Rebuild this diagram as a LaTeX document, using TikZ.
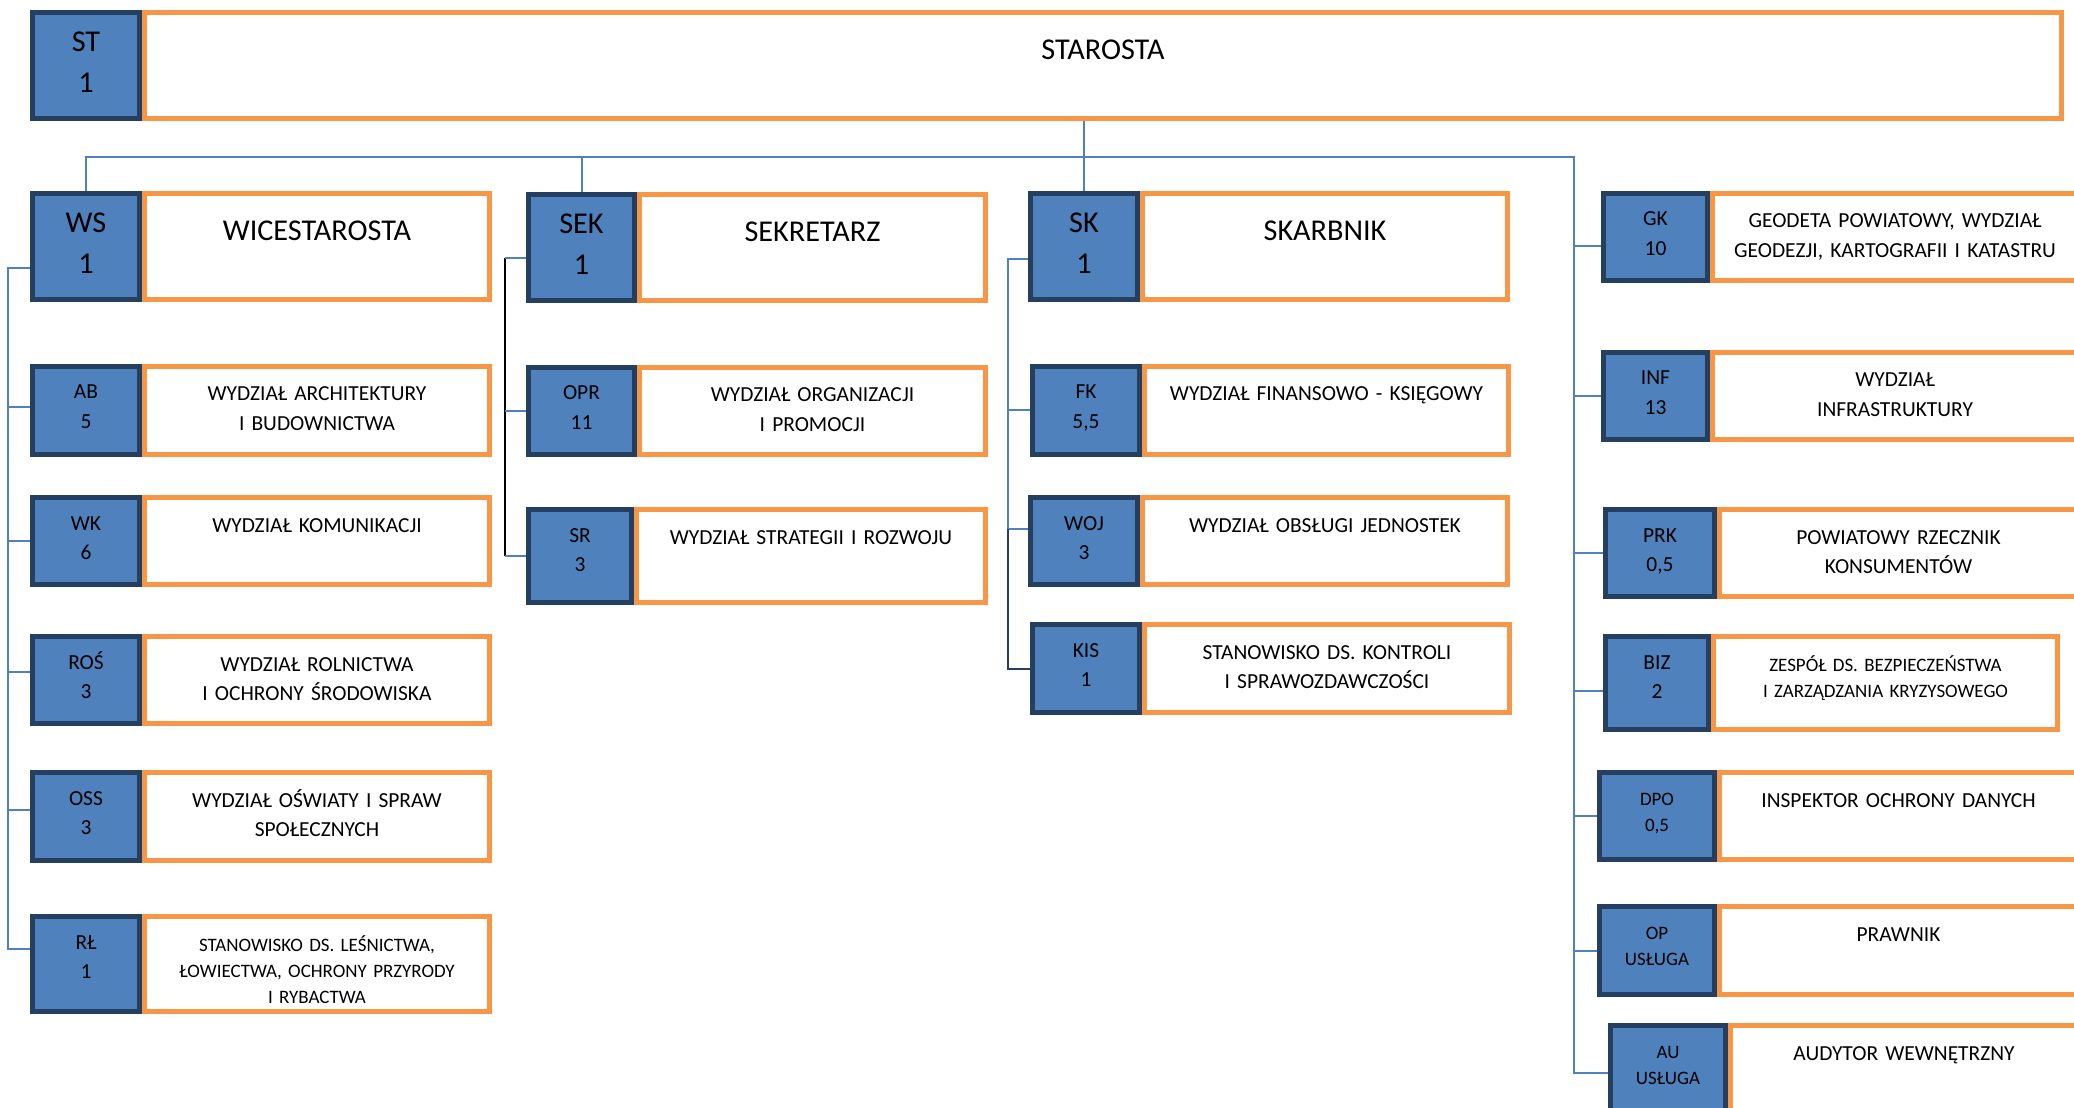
\documentclass[tikz,border=0pt]{standalone}
\usepackage{fontspec}
\setmainfont{Carlito}
\usepackage{tikz}
\definecolor{office}{RGB}{79, 129, 189}
\definecolor{navy}{RGB}{36, 63, 96}
\definecolor{orng}{RGB}{247, 150, 70}
\newcommand{\fbig}{\fontsize{8.6pt}{11.4pt}\selectfont}
\newcommand{\fmid}{\fontsize{6.1pt}{8.5pt}\selectfont}
\newcommand{\fsmall}{\fontsize{5.4pt}{7.4pt}\selectfont}
\tikzset{
  codebox/.style={draw=navy, fill=office, line width=0.5mm, inner sep=0, anchor=north west, align=center},
  namebox/.style={draw=orng, fill=white, line width=0.5mm, inner sep=0, anchor=north west, align=center},
  bigtxt/.style={font=\fbig}, midtxt/.style={font=\fmid}, smalltxt/.style={font=\fsmall},
  link/.style={draw=office, line width=0.2mm},
  spine/.style={draw=black, line width=0.2mm}
}

\begin{document}
\begin{tikzpicture}[x=0.1mm, y=-0.1mm]
  \useasboundingbox (0,0) rectangle (2074,1108);
  \clip (0,0) rectangle (2074,1108);

  \foreach \n/\x/\y/\bw/\rx/\code/\desc in {st/30/10/112/2064/{ST\\1}/{STAROSTA}, ws/30/191/112/492/{WS\\1}/{WICESTAROSTA}, sek/526/192/111/988/{SEK\\1}/{SEKRETARZ}, sk/1028/191/112/1510/{SK\\1}/{SKARBNIK}} {
    \pgfmathsetmacro\wcode{(\bw-5)/10}
    \pgfmathsetmacro\wname{(\rx-\x-\bw-5)/10}
    \node[codebox, bigtxt, text width=\wcode mm, text height=3.95mm, text depth=6.65mm] (\n) at (\x,\y) {\code};
    \node[namebox, bigtxt, text width=\wname mm, text height=4.75mm, text depth=5.85mm] (\n-d) at (\x+\bw,\y) {\desc};
  }

  \foreach \n/\x/\y/\hh/\bw/\rx/\cf/\df/\code/\desc in {
    ab/30/364/93/112/492/midtxt/midtxt/{AB\\5}/{WYDZIAŁ ARCHITEKTURY\\I BUDOWNICTWA},
    wk/30/495/92/112/492/midtxt/midtxt/{WK\\6}/{WYDZIAŁ KOMUNIKACJI},
    ros/30/634/92/112/492/midtxt/midtxt/{ROŚ\\3}/{WYDZIAŁ ROLNICTWA\\I OCHRONY ŚRODOWISKA},
    oss/30/770/93/112/492/midtxt/midtxt/{OSS\\3}/{WYDZIAŁ OŚWIATY I SPRAW\\SPOŁECZNYCH},
    rl/30/914/100/112/492/midtxt/smalltxt/{RŁ\\1}/{STANOWISKO DS. LEŚNICTWA,\\ŁOWIECTWA, OCHRONY PRZYRODY\\I RYBACTWA},
    opr/526/365/92/111/988/midtxt/midtxt/{OPR\\11}/{WYDZIAŁ ORGANIZACJI\\I PROMOCJI},
    sr/526/507/98/108/988/midtxt/midtxt/{SR\\3}/{WYDZIAŁ STRATEGII I ROZWOJU},
    fk/1030/364/93/112/1511/midtxt/midtxt/{FK\\5,5}/{WYDZIAŁ FINANSOWO - KSIĘGOWY},
    woj/1028/495/92/112/1510/midtxt/midtxt/{WOJ\\3}/{WYDZIAŁ OBSŁUGI JEDNOSTEK},
    kis/1030/622/93/112/1512/midtxt/midtxt/{KIS\\1}/{STANOWISKO DS. KONTROLI\\I SPRAWOZDAWCZOŚCI},
    gk/1601/191/92/109/2080/midtxt/midtxt/{GK\\10}/{GEODETA POWIATOWY, WYDZIAŁ\\GEODEZJI, KARTOGRAFII I KATASTRU},
    inf/1601/350/92/109/2080/midtxt/midtxt/{INF\\13}/{WYDZIAŁ\\INFRASTRUKTURY},
    prk/1603/507/92/114/2080/midtxt/midtxt/{PRK\\0,5}/{POWIATOWY RZECZNIK\\KONSUMENTÓW},
    biz/1603/634/98/108/2060/midtxt/smalltxt/{BIZ\\2}/{ZESPÓŁ DS. BEZPIECZEŃSTWA\\I ZARZĄDZANIA KRYZYSOWEGO},
    dpo/1597/770/92/120/2080/smalltxt/midtxt/{DPO\\0,5}/{INSPEKTOR OCHRONY DANYCH},
    op/1597/904/93/120/2080/smalltxt/midtxt/{OP\\USŁUGA}/{PRAWNIK},
    au/1608/1023/100/120/2080/smalltxt/midtxt/{AU\\USŁUGA}/{AUDYTOR WEWNĘTRZNY}} {
    \pgfmathsetmacro\wcode{(\bw-5)/10}
    \pgfmathsetmacro\wname{(\rx-\x-\bw-5)/10}
    \pgfmathsetmacro\dcode{(\hh-37.5)/10}
    \pgfmathsetmacro\dname{(\hh-39.5)/10}
    \node[codebox, \cf, text width=\wcode mm, text height=3.25mm, text depth=\dcode mm] (\n) at (\x,\y) {\code};
    \node[namebox, \df, text width=\wname mm, text height=3.45mm, text depth=\dname mm] (\n-d) at (\x+\bw,\y) {\desc};
  }

  \coordinate (bus) at (0,157);
  \coordinate (wspine) at (8,0);
  \coordinate (sekspine) at (505,0);
  \coordinate (skspine) at (1008,0);
  \coordinate (rspine) at (1574,157);

  \draw[link] (st-d.south -| sk.north) -- (sk.north);
  \draw[link] (ws.north) |- (rspine) -- (rspine |- au.west) -- (au.west);
  \draw[link] (sek.north) -- (sek.north |- bus);

  \coordinate (wsout) at ([yshift=-2.2mm]ws.west);
  \coordinate (rlin) at ([yshift=1.5mm]rl.west);
  \draw[link] (wsout) -| (wspine |- rlin) -- (rlin);
  \foreach \n/\s in {ab/0.35, wk/0, ros/0.8, oss/0.65} {
    \coordinate (\n-in) at ([yshift=\s mm]\n.west);
    \draw[link] (wspine |- \n-in) -- (\n-in);
  }

  \coordinate (sekout) at ([yshift=-1.1mm]sek.west);
  \draw[spine] (sekspine |- sekout) -- (sekspine |- sr.west);
  \foreach \p in {sekout, opr.west, sr.west}
    \draw[link] (sekspine |- \p) -- (\p);

  \coordinate (skout) at ([yshift=-1.3mm]sk.west);
  \coordinate (wojin) at ([yshift=1.2mm]woj.west);
  \draw[link] (skout) -| (skspine |- wojin) -- (wojin);
  \draw[link] (skspine |- fk.west) -- (fk.west);
  \draw[link, draw=navy] (skspine |- wojin) |- (kis.west);

  \foreach \n/\s in {gk/-0.9, inf/0, prk/0, biz/-0.8, dpo/0, op/0} {
    \coordinate (\n-in) at ([yshift=\s mm]\n.west);
    \draw[link] (rspine |- \n-in) -- (\n-in);
  }
\end{tikzpicture}
\end{document}
